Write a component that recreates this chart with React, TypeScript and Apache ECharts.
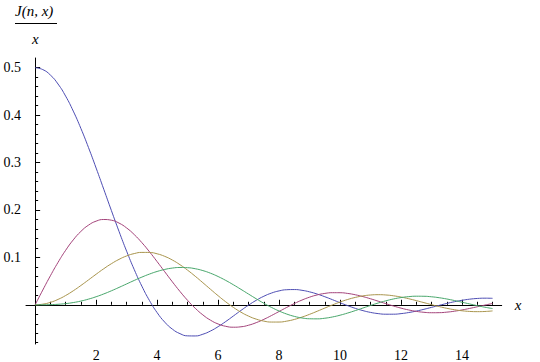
import React, { useEffect, useRef } from "react";
import * as echarts from "echarts";

const xs = [0, 0.25, 0.5, 0.75, 1, 1.25, 1.5, 1.75, 2, 2.25, 2.5, 2.75, 3, 3.25, 3.5, 3.75, 4, 4.25, 4.5, 4.75, 5, 5.25, 5.5, 5.75, 6, 6.25, 6.5, 6.75, 7, 7.25, 7.5, 7.75, 8, 8.25, 8.5, 8.75, 9, 9.25, 9.5, 9.75, 10, 10.25, 10.5, 10.75, 11, 11.25, 11.5, 11.75, 12, 12.25, 12.5, 12.75, 13, 13.25, 13.5, 13.75, 14, 14.25, 14.5, 14.75, 15];

const n1 = [0.5, 0.4961, 0.48454, 0.46566, 0.44005, 0.4085, 0.37196, 0.33152, 0.28836, 0.24373, 0.19884, 0.15491, 0.11302, 0.0742, 0.03925, 0.00887, -0.01651, -0.03659, -0.05135, -0.06088, -0.06552, -0.06572, -0.06208, -0.0553, -0.04611, -0.03532, -0.02367, -0.0119, -0.00067, 0.00945, 0.01803, 0.02472, 0.02933, 0.03178, 0.03213, 0.03054, 0.02726, 0.02261, 0.01698, 0.01076, 0.00435, -0.00185, -0.00751, -0.01232, -0.01607, -0.01861, -0.01987, -0.01984, -0.01862, -0.01635, -0.01324, -0.00951, -0.00541, -0.00122, 0.00282, 0.00647, 0.00953, 0.01186, 0.01334, 0.01394, 0.01367];
const n2 = [0, 0.03109, 0.06121, 0.08943, 0.1149, 0.13687, 0.15473, 0.168, 0.17642, 0.17986, 0.17842, 0.17234, 0.16203, 0.14804, 0.13104, 0.11177, 0.09103, 0.06965, 0.04841, 0.02808, 0.00931, -0.0073, -0.02133, -0.03245, -0.04048, -0.04539, -0.0473, -0.04641, -0.04306, -0.03766, -0.0307, -0.02268, -0.01412, -0.00554, 0.00263, 0.00994, 0.01609, 0.02082, 0.02399, 0.02552, 0.02546, 0.02393, 0.02111, 0.01725, 0.01264, 0.0076, 0.00243, -0.00256, -0.00708, -0.01091, -0.01387, -0.01583, -0.01675, -0.01662, -0.01551, -0.01354, -0.01086, -0.00766, -0.00415, -0.00062, 0.00277];
const n3 = [0, 0.00131, 0.00513, 0.01132, 0.01956, 0.02951, 0.04065, 0.05249, 0.06447, 0.07604, 0.08664, 0.09578, 0.10302, 0.10802, 0.11051, 0.11036, 0.10754, 0.10215, 0.09438, 0.08453, 0.07297, 0.06015, 0.04657, 0.03273, 0.01913, 0.00627, -0.00544, -0.0156, -0.02394, -0.03024, -0.03441, -0.03643, -0.03639, -0.03447, -0.0309, -0.02599, -0.0201, -0.01361, -0.00688, -0.00028, 0.00584, 0.0112, 0.01555, 0.01874, 0.02067, 0.02131, 0.02071, 0.01897, 0.01626, 0.01279, 0.0088, 0.00454, 0.00026, -0.0038, -0.00741, -0.0104, -0.01263, -0.014, -0.01448, -0.01411, -0.01293];
const n4 = [0, 0.00004, 0.00032, 0.00107, 0.00248, 0.00471, 0.00785, 0.01196, 0.017, 0.02291, 0.02951, 0.03663, 0.04401, 0.05137, 0.0584, 0.0648, 0.07028, 0.07457, 0.07743, 0.07869, 0.07825, 0.07605, 0.07213, 0.06659, 0.05961, 0.05141, 0.04228, 0.03254, 0.02254, 0.01264, 0.00318, -0.00552, -0.01317, -0.01954, -0.02444, -0.02777, -0.0295, -0.02965, -0.02833, -0.0257, -0.02196, -0.01737, -0.01222, -0.00679, -0.00137, 0.00377, 0.00838, 0.01225, 0.01521, 0.01717, 0.01809, 0.01797, 0.01687, 0.0149, 0.01221, 0.009, 0.00545, 0.00175, -0.00185, -0.00512, -0.00794];

const xMajorTicks = [2, 4, 6, 8, 10, 12, 14];
const xMinorTicks = [0.5, 1, 1.5, 2.5, 3, 3.5, 4.5, 5, 5.5, 6.5, 7, 7.5, 8.5, 9, 9.5, 10.5, 11, 11.5, 12.5, 13, 13.5, 14.5, 15];
const yMajorTicks = [0.1, 0.2, 0.3, 0.4, 0.5];
const yMinorTicks = [-0.08, -0.06, -0.04, -0.02, 0.02, 0.04, 0.06, 0.08, 0.12, 0.14, 0.16, 0.18, 0.22, 0.24, 0.26, 0.28, 0.32, 0.34, 0.36, 0.38, 0.42, 0.44, 0.46, 0.48];

const seriesData = [n1, n2, n3, n4];
const colors = ["#4d4db3", "#a3437a", "#a8944c", "#48a66b"];

const FONT = "Liberation Serif, Times New Roman, serif";

export default function App() {
  const ref = useRef<HTMLDivElement>(null);
  useEffect(() => {
    document.body.style.margin = "0";
    const chart = echarts.init(ref.current!, null, { renderer: "svg" });
    const axisLine = { onZero: true, lineStyle: { color: "#000", width: 1 } };
    const tickStyle = { color: "#000", width: 1 };
    chart.setOption({
      animation: false,
      textStyle: { fontFamily: FONT },
      grid: { left: 26, right: 38.3, top: 58, bottom: 10, containLabel: false },
      xAxis: [
        {
          type: "value",
          min: -0.3,
          max: 15.3,
          position: "bottom",
          axisLine,
          axisTick: { show: true, inside: true, length: 5, lineStyle: tickStyle, customValues: xMajorTicks },
          axisLabel: { customValues: xMajorTicks, margin: 4, fontFamily: FONT, fontSize: 14, color: "#000" },
          splitLine: { show: false },
          name: "x",
          nameLocation: "end",
          nameGap: 13,
          nameTextStyle: { fontFamily: FONT, fontStyle: "italic", fontSize: 15, color: "#000", verticalAlign: "middle" },
        },
        {
          type: "value",
          min: -0.3,
          max: 15.3,
          position: "bottom",
          axisLine: { show: false, onZero: true },
          axisTick: { show: true, inside: true, length: 3, lineStyle: tickStyle, customValues: xMinorTicks },
          axisLabel: { show: false },
          splitLine: { show: false },
        },
      ],
      yAxis: [
        {
          type: "value",
          min: -0.0827,
          max: 0.5205,
          position: "left",
          axisLine,
          axisTick: { show: true, inside: true, length: 5, lineStyle: tickStyle, customValues: yMajorTicks },
          axisLabel: { customValues: yMajorTicks, margin: 5, fontFamily: FONT, fontSize: 14, color: "#000" },
          splitLine: { show: false },
        },
        {
          type: "value",
          min: -0.0827,
          max: 0.5205,
          position: "left",
          axisLine: { show: false, onZero: true },
          axisTick: { show: true, inside: true, length: 3, lineStyle: tickStyle, customValues: yMinorTicks },
          axisLabel: { show: false },
          splitLine: { show: false },
        },
      ],
      series: seriesData.map((arr, i) => ({
        type: "line",
        xAxisIndex: 0,
        yAxisIndex: 0,
        data: xs.map((x, j) => [x, arr[j]]),
        showSymbol: false,
        smooth: true,
        lineStyle: { color: colors[i], width: 1 },
        itemStyle: { color: colors[i] },
      })),
      graphic: [
        {
          type: "text",
          left: 15,
          top: 3,
          style: { text: "J(n, x)", fontFamily: FONT, fontStyle: "italic", fontSize: 15, fill: "#000" },
        },
        {
          type: "line",
          shape: { x1: 15, y1: 23.5, x2: 57, y2: 23.5 },
          style: { stroke: "#000", lineWidth: 1 },
        },
        {
          type: "text",
          left: 32,
          top: 31,
          style: { text: "x", fontFamily: FONT, fontStyle: "italic", fontSize: 15, fill: "#000" },
        },
      ],
    });
    return () => chart.dispose();
  }, []);
  return <div ref={ref} style={{ width: 540, height: 362 }} />;
}
